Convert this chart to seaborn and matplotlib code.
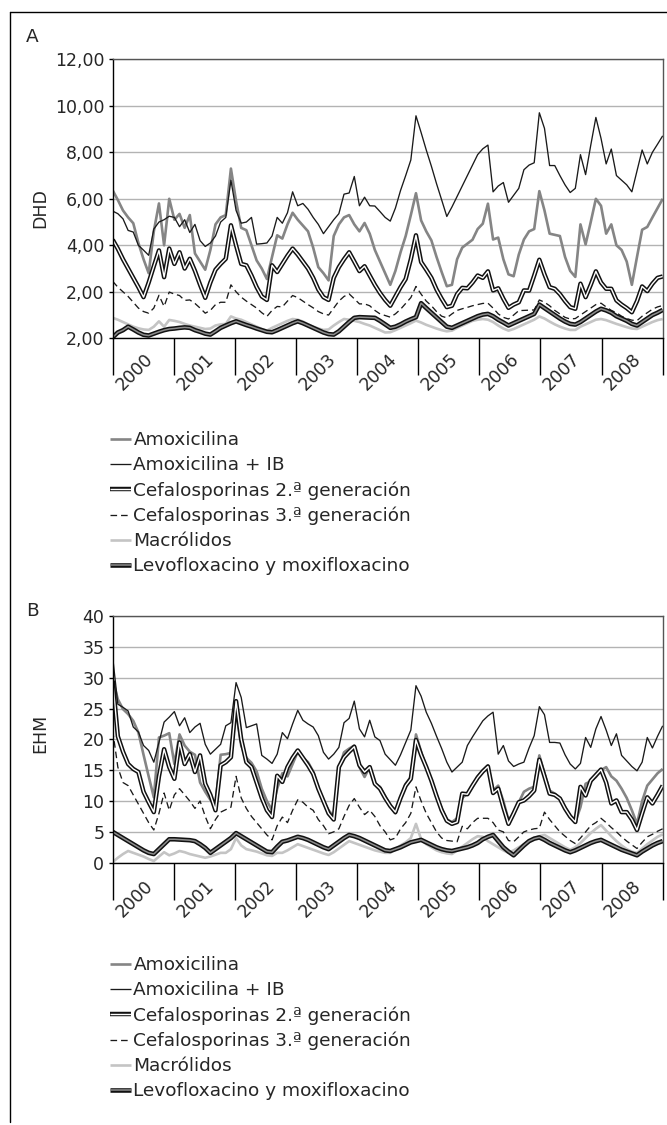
import numpy as np
import matplotlib
matplotlib.use("Agg")
import matplotlib.pyplot as plt
import matplotlib.patheffects as pe
from matplotlib.lines import Line2D
from matplotlib.transforms import ScaledTranslation
import seaborn as sns

# monthly data, Jan 2000 - Dec 2008 (one row per year)
years = ["2000", "2001", "2002", "2003", "2004", "2005", "2006", "2007", "2008"]
series = ["Amoxicilina", "Amoxicilina + IB", "Cefalosporinas 2.ª generación",
          "Cefalosporinas 3.ª generación", "Macrólidos", "Levofloxacino y moxifloxacino"]

# --- panel A (DHD) ---
amox_dhd = [6.36, 5.95, 5.5, 5.2, 4.95, 4.1, 3.4, 2.8, 4.6, 5.8, 4.0, 6.0,
            5.1, 5.35, 4.75, 5.3, 3.65, 3.3, 2.95, 3.8, 4.9, 5.2, 5.3, 7.3,
            5.9, 4.75, 4.65, 4.0, 3.35, 3.0, 2.55, 3.5, 4.43, 4.29, 4.9, 5.4,
            5.1, 4.85, 4.6, 3.9, 3.06, 2.8, 2.49, 4.4, 4.9, 5.2, 5.3, 4.9,
            4.6, 4.96, 4.5, 3.8, 3.3, 2.8, 2.3, 2.9, 3.7, 4.4, 5.3, 6.24,
            5.07, 4.6, 4.21, 3.5, 2.85, 2.24, 2.3, 3.4, 3.9, 4.07, 4.24, 4.7,
            4.93, 5.79, 4.25, 4.33, 3.4, 2.75, 2.67, 3.6, 4.25, 4.6, 4.7, 6.33,
            5.5, 4.5, 4.45, 4.4, 3.5, 2.9, 2.64, 4.9, 4.04, 5.0, 6.0, 5.7,
            4.5, 4.9, 4.0, 3.8, 3.3, 2.3, 3.5, 4.67, 4.79, 5.2, 5.6, 6.0]
amox_ib_dhd = [5.47, 5.36, 5.14, 4.64, 4.57, 4.0, 3.79, 3.57, 4.7, 5.0, 5.1, 5.25,
               5.2, 4.8, 5.1, 4.55, 4.9, 4.2, 3.95, 4.1, 4.4, 5.0, 5.2, 6.8,
               5.5, 4.95, 5.0, 5.2, 4.05, 4.07, 4.1, 4.4, 5.2, 4.95, 5.4, 6.3,
               5.7, 5.8, 5.55, 5.2, 4.9, 4.5, 4.8, 5.1, 5.36, 6.2, 6.25, 6.96,
               5.7, 6.07, 5.7, 5.69, 5.45, 5.2, 5.04, 5.6, 6.36, 7.0, 7.67, 9.57,
               8.85, 8.1, 7.4, 6.65, 5.95, 5.24, 5.65, 6.1, 6.55, 7.0, 7.45, 7.9,
               8.15, 8.31, 6.3, 6.55, 6.7, 5.85, 6.15, 6.45, 7.25, 7.45, 7.55, 9.7,
               9.03, 7.43, 7.43, 7.0, 6.6, 6.27, 6.45, 7.9, 7.04, 8.3, 9.5, 8.6,
               7.5, 8.14, 7.0, 6.8, 6.6, 6.3, 7.2, 8.1, 7.5, 8.0, 8.35, 8.71]
cef2_dhd = [4.24, 3.85, 3.4, 3.0, 2.6, 2.2, 1.77, 2.4, 3.1, 3.78, 2.63, 3.86,
            3.2, 3.7, 3.0, 3.42, 2.9, 2.3, 1.74, 2.4, 2.95, 3.2, 3.42, 4.86,
            4.0, 3.2, 3.14, 2.7, 2.2, 1.8, 1.65, 3.14, 2.85, 3.2, 3.55, 3.86,
            3.6, 3.3, 3.0, 2.6, 2.1, 1.77, 1.65, 2.6, 3.06, 3.4, 3.7, 3.3,
            2.89, 3.1, 2.7, 2.3, 1.95, 1.65, 1.4, 1.8, 2.2, 2.55, 3.4, 4.43,
            3.28, 2.95, 2.6, 2.1, 1.7, 1.34, 1.4, 1.9, 2.17, 2.15, 2.4, 2.7,
            2.6, 2.88, 2.06, 2.15, 1.7, 1.31, 1.45, 1.55, 2.06, 2.05, 2.7, 3.38,
            2.75, 2.2, 2.13, 1.9, 1.6, 1.34, 1.27, 2.35, 1.77, 2.3, 2.88, 2.4,
            2.13, 2.13, 1.63, 1.45, 1.3, 1.12, 1.6, 2.23, 2.03, 2.35, 2.6, 2.66]
cef3_dhd = [2.45, 2.2, 2.0, 1.8, 1.55, 1.3, 1.15, 1.08, 1.3, 1.85, 1.37, 1.99,
            1.9, 1.84, 1.63, 1.65, 1.5, 1.3, 1.08, 1.2, 1.45, 1.55, 1.55, 2.3,
            2.0, 1.77, 1.6, 1.45, 1.3, 1.1, 0.94, 1.2, 1.37, 1.35, 1.6, 1.84,
            1.75, 1.6, 1.45, 1.31, 1.15, 1.05, 1.0, 1.3, 1.6, 1.8, 1.91, 1.7,
            1.48, 1.48, 1.4, 1.2, 1.05, 0.98, 0.91, 1.05, 1.25, 1.5, 1.75, 2.23,
            1.9, 1.6, 1.4, 1.15, 0.95, 0.88, 1.05, 1.2, 1.27, 1.33, 1.4, 1.45,
            1.5, 1.51, 1.3, 1.05, 0.9, 0.83, 1.0, 1.19, 1.2, 1.21, 1.22, 1.65,
            1.55, 1.4, 1.2, 1.05, 0.9, 0.83, 0.85, 1.0, 1.15, 1.3, 1.45, 1.51,
            1.35, 1.2, 1.1, 0.95, 0.85, 0.78, 0.76, 0.95, 1.1, 1.25, 1.35, 1.41]
macro_dhd = [0.88, 0.8, 0.7, 0.6, 0.5, 0.43, 0.38, 0.36, 0.5, 0.73, 0.5, 0.79,
             0.75, 0.7, 0.62, 0.55, 0.5, 0.45, 0.4, 0.42, 0.55, 0.6, 0.62, 0.94,
             0.85, 0.8, 0.7, 0.6, 0.5, 0.4, 0.33, 0.45, 0.55, 0.65, 0.75, 0.83,
             0.8, 0.72, 0.6, 0.5, 0.42, 0.36, 0.38, 0.55, 0.7, 0.83, 0.8, 0.75,
             0.7, 0.62, 0.55, 0.45, 0.35, 0.25, 0.26, 0.35, 0.45, 0.55, 0.65, 0.76,
             0.68, 0.58, 0.5, 0.42, 0.35, 0.3, 0.33, 0.45, 0.55, 0.65, 0.75, 0.8,
             0.83, 0.8, 0.7, 0.55, 0.42, 0.33, 0.4, 0.5, 0.6, 0.7, 0.8, 0.94,
             0.85, 0.72, 0.6, 0.5, 0.42, 0.36, 0.36, 0.5, 0.6, 0.7, 0.8, 0.83,
             0.78, 0.7, 0.62, 0.55, 0.48, 0.42, 0.4, 0.5, 0.6, 0.7, 0.78, 0.83]
levo_dhd = [0.04, 0.25, 0.35, 0.5, 0.38, 0.25, 0.15, 0.12, 0.2, 0.28, 0.35, 0.4,
            0.42, 0.45, 0.47, 0.45, 0.35, 0.28, 0.2, 0.16, 0.3, 0.45, 0.55, 0.65,
            0.73, 0.65, 0.57, 0.5, 0.42, 0.35, 0.28, 0.26, 0.35, 0.45, 0.55, 0.65,
            0.73, 0.65, 0.55, 0.45, 0.35, 0.25, 0.18, 0.16, 0.3, 0.5, 0.7, 0.88,
            0.91, 0.9, 0.89, 0.88, 0.75, 0.6, 0.45, 0.5, 0.6, 0.72, 0.82, 0.91,
            1.51, 1.3, 1.1, 0.9, 0.7, 0.5, 0.45, 0.55, 0.65, 0.75, 0.85, 0.95,
            1.02, 1.05, 0.95, 0.8, 0.68, 0.55, 0.65, 0.75, 0.85, 0.95, 1.05, 1.45,
            1.3, 1.15, 1.0, 0.85, 0.72, 0.62, 0.59, 0.7, 0.85, 1.0, 1.15, 1.27,
            1.2, 1.1, 0.95, 0.85, 0.75, 0.62, 0.55, 0.7, 0.85, 1.0, 1.1, 1.22]

# --- panel B (EHM) ---
amox_ehm = [29.7, 26.5, 24.9, 24.1, 23.0, 21.1, 17.5, 14.0, 10.6, 20.3, 20.6, 21.0,
            16.0, 20.8, 19.0, 18.0, 17.5, 13.0, 11.5, 10.2, 9.5, 17.5, 17.6, 17.8,
            24.5, 19.0, 17.0, 16.2, 14.8, 12.0, 10.0, 8.5, 12.0, 14.5, 14.0, 16.0,
            18.0, 17.0, 16.3, 14.8, 12.0, 10.0, 8.5, 7.5, 15.2, 17.9, 18.5, 19.0,
            15.5, 13.9, 15.5, 12.8, 12.3, 10.8, 9.3, 8.0, 10.5, 12.8, 13.9, 20.8,
            18.0, 15.5, 13.3, 11.0, 8.8, 7.0, 6.6, 7.2, 10.5, 11.2, 12.3, 14.0,
            15.0, 15.8, 11.7, 12.5, 10.0, 6.9, 8.0, 9.8, 11.5, 12.0, 12.3, 17.4,
            14.5, 11.7, 11.2, 10.4, 9.0, 7.5, 6.6, 9.0, 12.8, 13.2, 13.9, 15.0,
            15.5, 14.0, 13.3, 12.0, 10.5, 8.5, 6.3, 10.0, 12.5, 13.5, 14.5, 15.2]
amox_ib_ehm = [33.3, 25.7, 25.2, 24.6, 22.0, 21.2, 19.0, 18.2, 16.3, 19.5, 22.8, 23.6,
               24.5, 22.2, 23.5, 21.1, 22.0, 22.6, 19.2, 17.6, 18.4, 19.2, 22.2, 22.7,
               29.2, 26.8, 21.9, 22.2, 22.5, 17.4, 16.8, 16.1, 17.6, 21.1, 20.1, 22.5,
               24.7, 23.1, 22.5, 22.0, 20.6, 17.9, 16.8, 17.6, 18.7, 22.7, 23.4, 26.2,
               21.7, 20.4, 23.1, 20.4, 19.8, 17.6, 16.7, 15.8, 17.5, 19.5, 21.5, 28.7,
               27.0, 24.4, 22.6, 20.5, 18.5, 16.3, 14.7, 15.5, 16.3, 19.0, 20.4, 21.7,
               23.0, 23.8, 24.4, 17.6, 19.0, 16.5, 15.6, 16.0, 16.3, 18.6, 20.6, 25.3,
               24.0, 19.5, 19.5, 19.4, 17.5, 16.0, 15.2, 16.1, 20.3, 18.7, 21.7, 23.7,
               21.5, 19.0, 20.9, 17.4, 16.5, 15.6, 14.9, 16.3, 20.3, 18.6, 20.5, 22.2]
cef2_ehm = [29.5, 20.5, 18.0, 16.0, 15.2, 14.7, 11.5, 9.8, 8.2, 14.0, 18.4, 15.5,
            13.6, 19.5, 16.0, 17.6, 14.7, 17.4, 12.8, 11.0, 8.5, 15.8, 16.3, 17.1,
            26.2, 20.0, 16.3, 15.5, 13.0, 10.5, 8.5, 7.4, 14.1, 13.1, 15.5, 17.0,
            18.2, 17.0, 15.8, 14.4, 12.0, 10.0, 8.0, 7.0, 15.5, 17.1, 18.0, 18.8,
            15.8, 14.7, 15.5, 12.8, 12.0, 10.5, 9.2, 8.2, 10.5, 12.5, 13.6, 19.9,
            17.5, 15.5, 13.3, 10.8, 8.5, 6.8, 6.3, 6.6, 11.2, 11.1, 12.5, 13.8,
            14.8, 15.6, 11.3, 12.0, 9.0, 6.3, 8.0, 9.8, 10.1, 10.8, 11.7, 16.7,
            14.0, 11.2, 11.0, 10.4, 8.8, 7.5, 6.6, 12.3, 10.9, 13.3, 14.2, 15.1,
            13.0, 9.6, 10.1, 8.2, 8.2, 7.0, 5.3, 8.0, 10.6, 9.6, 11.0, 12.5]
cef3_ehm = [21.4, 15.5, 13.0, 12.5, 11.0, 9.5, 8.0, 6.5, 5.3, 8.0, 11.3, 8.5,
            11.0, 12.0, 11.0, 10.0, 8.8, 10.0, 7.5, 5.5, 7.0, 8.2, 8.6, 9.0,
            14.0, 10.5, 8.8, 7.5, 6.5, 5.5, 4.5, 3.7, 6.0, 7.4, 6.5, 8.5,
            10.2, 9.8, 9.0, 8.5, 7.0, 6.0, 4.7, 5.0, 5.5, 7.5, 9.3, 10.4,
            9.0, 7.8, 8.5, 7.5, 6.0, 5.0, 3.7, 4.0, 5.5, 6.5, 8.0, 12.3,
            10.0, 8.0, 6.5, 5.0, 4.0, 3.6, 3.5, 3.4, 5.9, 5.5, 6.5, 7.2,
            7.2, 7.2, 6.5, 5.3, 5.0, 3.6, 3.4, 4.2, 5.0, 5.3, 5.5, 5.6,
            8.2, 7.0, 6.0, 5.0, 4.3, 3.6, 3.1, 4.0, 5.0, 6.0, 6.5, 7.2,
            6.5, 5.7, 5.0, 4.2, 3.5, 2.9, 2.3, 3.3, 4.2, 4.6, 5.1, 5.5]
macro_ehm = [0.1, 0.8, 1.4, 1.9, 1.6, 1.3, 1.0, 0.6, 0.27, 1.0, 1.7, 1.2,
             1.5, 1.9, 1.7, 1.4, 1.2, 1.0, 0.8, 1.0, 1.3, 1.6, 1.6, 2.2,
             4.0, 2.8, 2.2, 2.0, 1.8, 1.5, 1.2, 1.1, 1.6, 1.6, 2.0, 2.5,
             3.0, 2.7, 2.4, 2.1, 1.8, 1.5, 1.25, 1.7, 2.3, 2.9, 3.5, 3.2,
             2.9, 2.6, 2.3, 2.0, 1.8, 1.6, 1.6, 2.2, 2.8, 3.3, 4.0, 6.3,
             3.8, 3.0, 2.5, 2.0, 1.7, 1.5, 1.4, 2.0, 2.6, 3.2, 3.8, 4.3,
             4.2, 3.5, 3.0, 2.5, 2.0, 1.6, 2.0, 2.5, 3.0, 3.5, 4.0, 4.3,
             4.5, 4.0, 3.5, 3.0, 2.5, 2.1, 2.5, 3.2, 4.0, 4.8, 5.5, 6.1,
             5.2, 4.3, 3.5, 2.8, 2.2, 1.8, 1.6, 2.3, 3.0, 3.6, 4.2, 4.6]
levo_ehm = [5.0, 4.5, 4.0, 3.5, 3.0, 2.5, 2.0, 1.6, 1.4, 2.2, 3.0, 3.8,
            3.8, 3.75, 3.7, 3.65, 3.5, 3.0, 2.4, 1.6, 2.2, 2.8, 3.4, 4.0,
            4.8, 4.3, 3.8, 3.3, 2.8, 2.3, 1.8, 1.7, 2.6, 3.4, 3.6, 3.9,
            4.2, 4.0, 3.7, 3.3, 2.9, 2.5, 2.2, 2.8, 3.4, 4.0, 4.5, 4.3,
            4.0, 3.6, 3.2, 2.8, 2.4, 2.0, 1.9, 2.2, 2.5, 2.9, 3.3, 3.5,
            3.7, 3.3, 2.9, 2.5, 2.2, 2.0, 1.9, 2.1, 2.3, 2.5, 2.8, 3.2,
            3.8, 4.2, 4.5, 3.5, 2.5, 1.8, 1.2, 2.0, 2.8, 3.5, 3.9, 4.1,
            3.7, 3.2, 2.8, 2.4, 2.0, 1.7, 2.0, 2.4, 2.8, 3.2, 3.5, 3.7,
            3.3, 2.9, 2.5, 2.1, 1.8, 1.5, 1.2, 1.8, 2.3, 2.8, 3.2, 3.5]

dhd_ticks = [0, 2, 4, 6, 8, 10, 12]
dhd_ticklabels = ["2,00", "2,00", "4,00", "6,00", "8,00", "10,00", "12,00"]
ehm_ticks = [0, 5, 10, 15, 20, 25, 30, 35, 40]
ehm_ticklabels = ["0", "5", "10", "15", "20", "25", "30", "35", "40"]

# line look per series: colour, width, dash, outline width for the double lines
styles = [
    dict(color="#858585", lw=1.9, ls="-", outline=None),
    dict(color="#1a1a1a", lw=0.95, ls="-", outline=None),
    dict(color="white", lw=1.0, ls="-", outline=3.2),
    dict(color="#1a1a1a", lw=0.95, ls=(0, (5, 3)), outline=None),
    dict(color="#c4c4c4", lw=1.9, ls="-", outline=None),
    dict(color="#8c8c8c", lw=1.1, ls="-", outline=3.3),
]

sns.set_theme(style="white")
plt.rcParams["font.family"] = ["DejaVu Sans"]
FS = 12.5
FS_LEG = 13.3

W, H = 667, 1125
fig = plt.figure(figsize=(W / 100, H / 100), dpi=100)


def fx(px):
    return px / W


def fy(px):
    return 1 - px / H


def draw_panel(rect, data, ticks, ticklabels, ymax, ylabel, ylab_y, lab_pad):
    ax = fig.add_axes(rect)
    mes = np.arange(len(data[0]))
    for name, vals, st in zip(series, data, styles):
        sns.lineplot(x=mes, y=vals, ax=ax, color=st["color"], linewidth=st["lw"],
                     linestyle=st["ls"], label=name, legend=False)
        line = ax.get_lines()[-1]
        line.set_solid_capstyle("butt")
        line.set_dash_capstyle("butt")
        if st["outline"]:
            line.set_path_effects([pe.Stroke(linewidth=st["outline"], foreground="#111111"),
                                   pe.Normal()])
    ax.set_xlim(0, len(mes) - 1)
    ax.set_ylim(0, ymax)
    ax.set_yticks(ticks)
    ax.set_yticklabels(ticklabels, fontsize=FS)
    ax.yaxis.grid(True, color="#b3b3b3", lw=1.0)
    ax.xaxis.grid(False)
    ax.set_axisbelow(True)
    for s in ["left", "bottom"]:
        ax.spines[s].set_color("black")
        ax.spines[s].set_linewidth(1.0)
    for s in ["top", "right"]:
        ax.spines[s].set_color("#555555")
        ax.spines[s].set_linewidth(1.0)
    # year boundaries as long ticks, year names in between
    edges = np.linspace(0, len(mes) - 1, len(years) + 1)
    centers = (edges[:-1] + edges[1:]) / 2
    ax.set_xticks(edges, minor=True)
    ax.set_xticks(centers)
    ax.set_xticklabels(years, fontsize=FS, rotation=45, ha="right", va="top")
    ax.tick_params(axis="x", which="minor", bottom=True, length=26.5, width=1.0,
                   color="black", direction="out")
    ax.tick_params(axis="x", which="major", bottom=True, length=0, pad=lab_pad)
    ax.tick_params(axis="y", left=True, length=3, width=1.0, color="black", pad=3)
    off = ScaledTranslation(13 / 100, 0, fig.dpi_scale_trans)
    for lab in ax.get_xticklabels():
        lab.set_transform(lab.get_transform() + off)
    ax.set_xlabel("")
    ax.set_ylabel("")
    fig.text(fx(40), fy(ylab_y), ylabel, rotation=90, ha="center", va="center", fontsize=FS)
    return ax


ax_a = draw_panel([fx(112.7), fy(338.3), fx(550), 279 / H],
                  [amox_dhd, amox_ib_dhd, cef2_dhd, cef3_dhd, macro_dhd, levo_dhd],
                  dhd_ticks, dhd_ticklabels, 12, "DHD", 208, 8.5)
ax_b = draw_panel([fx(112.7), fy(862.7), fx(550), 246.7 / H],
                  [amox_ehm, amox_ib_ehm, cef2_ehm, cef3_ehm, macro_ehm, levo_ehm],
                  ehm_ticks, ehm_ticklabels, 40, "EHM", 733, 10.5)

for ax, top in [(ax_a, 431), (ax_b, 956)]:
    handles = ax.get_lines()[:len(series)]
    fig.legend(handles, series, loc="upper left", bbox_to_anchor=(fx(110), fy(top)),
               frameon=False, fontsize=FS_LEG, handlelength=1.15, handletextpad=0.12,
               labelspacing=0.38, borderpad=0, borderaxespad=0)

fig.text(fx(32), fy(37), "A", ha="center", va="center", fontsize=FS_LEG)
fig.text(fx(32), fy(611), "B", ha="center", va="center", fontsize=FS_LEG)

# outer frame (top and left edge only)
fig.add_artist(Line2D([fx(10), 1], [fy(12), fy(12)], transform=fig.transFigure,
                      color="black", lw=1.0))
fig.add_artist(Line2D([fx(10), fx(10)], [fy(12), fy(1122)], transform=fig.transFigure,
                      color="black", lw=1.0))

fig.savefig("out.png", dpi=100, facecolor="white")
